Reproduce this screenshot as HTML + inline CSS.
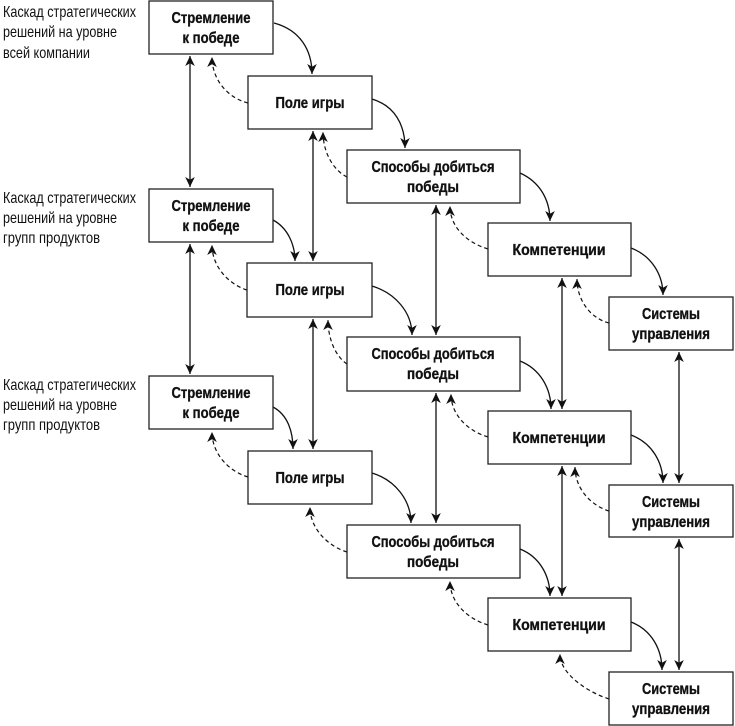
<!DOCTYPE html>
<html><head><meta charset="utf-8"><style>
html,body{margin:0;padding:0;background:#fff;}
svg{display:block;}
.bx{fill:#fff;stroke:#222;stroke-width:1.3;}
.t{font-family:"Liberation Sans Narrow","Liberation Sans",sans-serif;font-weight:bold;font-size:16px;fill:#111;stroke:#111;stroke-width:0.35;text-anchor:middle;}
.l{font-family:"Liberation Sans Narrow","Liberation Sans",sans-serif;font-size:16px;fill:#111;}
.s{fill:none;stroke:#111;stroke-width:1.3;}
.d{fill:none;stroke:#111;stroke-width:1.2;stroke-dasharray:4,3;}
</style></head><body>
<svg width="735" height="726" viewBox="0 0 735 726" xmlns="http://www.w3.org/2000/svg">
<defs>
<marker id="a" markerWidth="12" markerHeight="12" refX="10" refY="6" orient="auto" markerUnits="userSpaceOnUse">
<path d="M0,1.2 L10,6 L0,10.8 L2.8,6 Z" fill="#111"/></marker>
<marker id="b" markerWidth="12" markerHeight="12" refX="2" refY="6" orient="auto" markerUnits="userSpaceOnUse">
<path d="M12,1.2 L2,6 L12,10.8 L9.2,6 Z" fill="#111"/></marker>
</defs>

<text class="l" x="3" y="17" textLength="133" lengthAdjust="spacingAndGlyphs">Каскад стратегических</text>
<text class="l" x="3" y="37" textLength="114" lengthAdjust="spacingAndGlyphs">решений на уровне</text>
<text class="l" x="3" y="58" textLength="87" lengthAdjust="spacingAndGlyphs">всей компании</text>
<text class="l" x="3" y="203" textLength="133" lengthAdjust="spacingAndGlyphs">Каскад стратегических</text>
<text class="l" x="3" y="223" textLength="114" lengthAdjust="spacingAndGlyphs">решений на уровне</text>
<text class="l" x="3" y="243" textLength="97" lengthAdjust="spacingAndGlyphs">групп продуктов</text>
<text class="l" x="3" y="390" textLength="133" lengthAdjust="spacingAndGlyphs">Каскад стратегических</text>
<text class="l" x="3" y="410" textLength="114" lengthAdjust="spacingAndGlyphs">решений на уровне</text>
<text class="l" x="3" y="430" textLength="97" lengthAdjust="spacingAndGlyphs">групп продуктов</text>

<g class="s">
<path d="M190,56 L190,187" marker-start="url(#b)" marker-end="url(#a)"/>
<path d="M190,244 L190,374" marker-start="url(#b)" marker-end="url(#a)"/>
<path d="M313,131 L313,261" marker-start="url(#b)" marker-end="url(#a)"/>
<path d="M313,319 L313,449" marker-start="url(#b)" marker-end="url(#a)"/>
<path d="M436,205 L436,335" marker-start="url(#b)" marker-end="url(#a)"/>
<path d="M436,393 L436,523" marker-start="url(#b)" marker-end="url(#a)"/>
<path d="M562,278 L562,409" marker-start="url(#b)" marker-end="url(#a)"/>
<path d="M562,466 L562,596" marker-start="url(#b)" marker-end="url(#a)"/>
<path d="M679,352 L679,483" marker-start="url(#b)" marker-end="url(#a)"/>
<path d="M679,539 L679,670" marker-start="url(#b)" marker-end="url(#a)"/>
</g>

<g class="s">
<path d="M274,23 C300,30 312,50 312,74" marker-end="url(#a)"/>
<path d="M372,99 C395,106 405,125 405,148" marker-end="url(#a)"/>
<path d="M520,173 C540,182 550,200 550,221" marker-end="url(#a)"/>
<path d="M631,248 C652,256 663,275 663,295" marker-end="url(#a)"/>

<path d="M273,220 C288,228 295,245 295,261" marker-end="url(#a)"/>
<path d="M372,286 C395,293 412,312 412,335" marker-end="url(#a)"/>
<path d="M520,361 C540,369 551,388 551,409" marker-end="url(#a)"/>
<path d="M631,435 C652,443 663,462 663,483" marker-end="url(#a)"/>

<path d="M273,407 C288,415 293,432 293,449" marker-end="url(#a)"/>
<path d="M372,473 C395,480 411,500 411,523" marker-end="url(#a)"/>
<path d="M520,549 C540,557 550,576 550,596" marker-end="url(#a)"/>
<path d="M631,622 C652,630 662,650 662,670" marker-end="url(#a)"/>
</g>

<g class="d">
<path d="M248,103 C228,98 212,80 212,57" marker-end="url(#a)"/>
<path d="M347,177 C333,170 323,152 323,132" marker-end="url(#a)"/>
<path d="M488,249 C468,243 450,228 450,206" marker-end="url(#a)"/>
<path d="M609,323 C590,318 577,300 577,279" marker-end="url(#a)"/>

<path d="M247,290 C228,284 212,266 212,245" marker-end="url(#a)"/>
<path d="M347,364 C335,356 328,338 328,320" marker-end="url(#a)"/>
<path d="M488,437 C468,431 451,415 451,394" marker-end="url(#a)"/>
<path d="M609,511 C590,505 575,488 575,467" marker-end="url(#a)"/>

<path d="M248,477 C228,471 212,453 212,432" marker-end="url(#a)"/>
<path d="M347,552 C330,547 310,530 310,507" marker-end="url(#a)"/>
<path d="M488,625 C468,619 450,603 450,581" marker-end="url(#a)"/>
<path d="M609,699 C590,693 560,675 560,654" marker-end="url(#a)"/>
</g>

<g>
<rect class="bx" x="149" y="1" width="124" height="53"/>
<rect class="bx" x="248" y="76" width="124" height="53"/>
<rect class="bx" x="347" y="150" width="173" height="53"/>
<rect class="bx" x="488" y="223" width="143" height="53"/>
<rect class="bx" x="609" y="297" width="124" height="53"/>

<rect class="bx" x="149" y="189" width="124" height="53"/>
<rect class="bx" x="247" y="263" width="125" height="54"/>
<rect class="bx" x="347" y="337" width="173" height="54"/>
<rect class="bx" x="488" y="411" width="143" height="53"/>
<rect class="bx" x="609" y="485" width="124" height="52"/>

<rect class="bx" x="149" y="376" width="124" height="53"/>
<rect class="bx" x="248" y="451" width="124" height="53"/>
<rect class="bx" x="347" y="525" width="173" height="53"/>
<rect class="bx" x="488" y="598" width="143" height="53"/>
<rect class="bx" x="609" y="672" width="124" height="53"/>
</g>

<text class="t" x="211" y="23" textLength="79" lengthAdjust="spacingAndGlyphs">Стремление</text>
<text class="t" x="211" y="43" textLength="57" lengthAdjust="spacingAndGlyphs">к победе</text>
<text class="t" x="310" y="108" textLength="69" lengthAdjust="spacingAndGlyphs">Поле игры</text>
<text class="t" x="433" y="172" textLength="123" lengthAdjust="spacingAndGlyphs">Способы добиться</text>
<text class="t" x="433" y="192" textLength="52" lengthAdjust="spacingAndGlyphs">победы</text>
<text class="t" x="559" y="255" textLength="93" lengthAdjust="spacingAndGlyphs">Компетенции</text>
<text class="t" x="671" y="319" textLength="58" lengthAdjust="spacingAndGlyphs">Системы</text>
<text class="t" x="671" y="339" textLength="78" lengthAdjust="spacingAndGlyphs">управления</text>

<text class="t" x="211" y="211" textLength="79" lengthAdjust="spacingAndGlyphs">Стремление</text>
<text class="t" x="211" y="231" textLength="57" lengthAdjust="spacingAndGlyphs">к победе</text>
<text class="t" x="310" y="295" textLength="69" lengthAdjust="spacingAndGlyphs">Поле игры</text>
<text class="t" x="433" y="359" textLength="123" lengthAdjust="spacingAndGlyphs">Способы добиться</text>
<text class="t" x="433" y="379" textLength="52" lengthAdjust="spacingAndGlyphs">победы</text>
<text class="t" x="559" y="443" textLength="93" lengthAdjust="spacingAndGlyphs">Компетенции</text>
<text class="t" x="671" y="507" textLength="58" lengthAdjust="spacingAndGlyphs">Системы</text>
<text class="t" x="671" y="527" textLength="78" lengthAdjust="spacingAndGlyphs">управления</text>

<text class="t" x="211" y="398" textLength="79" lengthAdjust="spacingAndGlyphs">Стремление</text>
<text class="t" x="211" y="418" textLength="57" lengthAdjust="spacingAndGlyphs">к победе</text>
<text class="t" x="310" y="483" textLength="69" lengthAdjust="spacingAndGlyphs">Поле игры</text>
<text class="t" x="433" y="547" textLength="123" lengthAdjust="spacingAndGlyphs">Способы добиться</text>
<text class="t" x="433" y="567" textLength="52" lengthAdjust="spacingAndGlyphs">победы</text>
<text class="t" x="559" y="630" textLength="93" lengthAdjust="spacingAndGlyphs">Компетенции</text>
<text class="t" x="671" y="694" textLength="58" lengthAdjust="spacingAndGlyphs">Системы</text>
<text class="t" x="671" y="714" textLength="78" lengthAdjust="spacingAndGlyphs">управления</text>
</svg>
</body></html>
